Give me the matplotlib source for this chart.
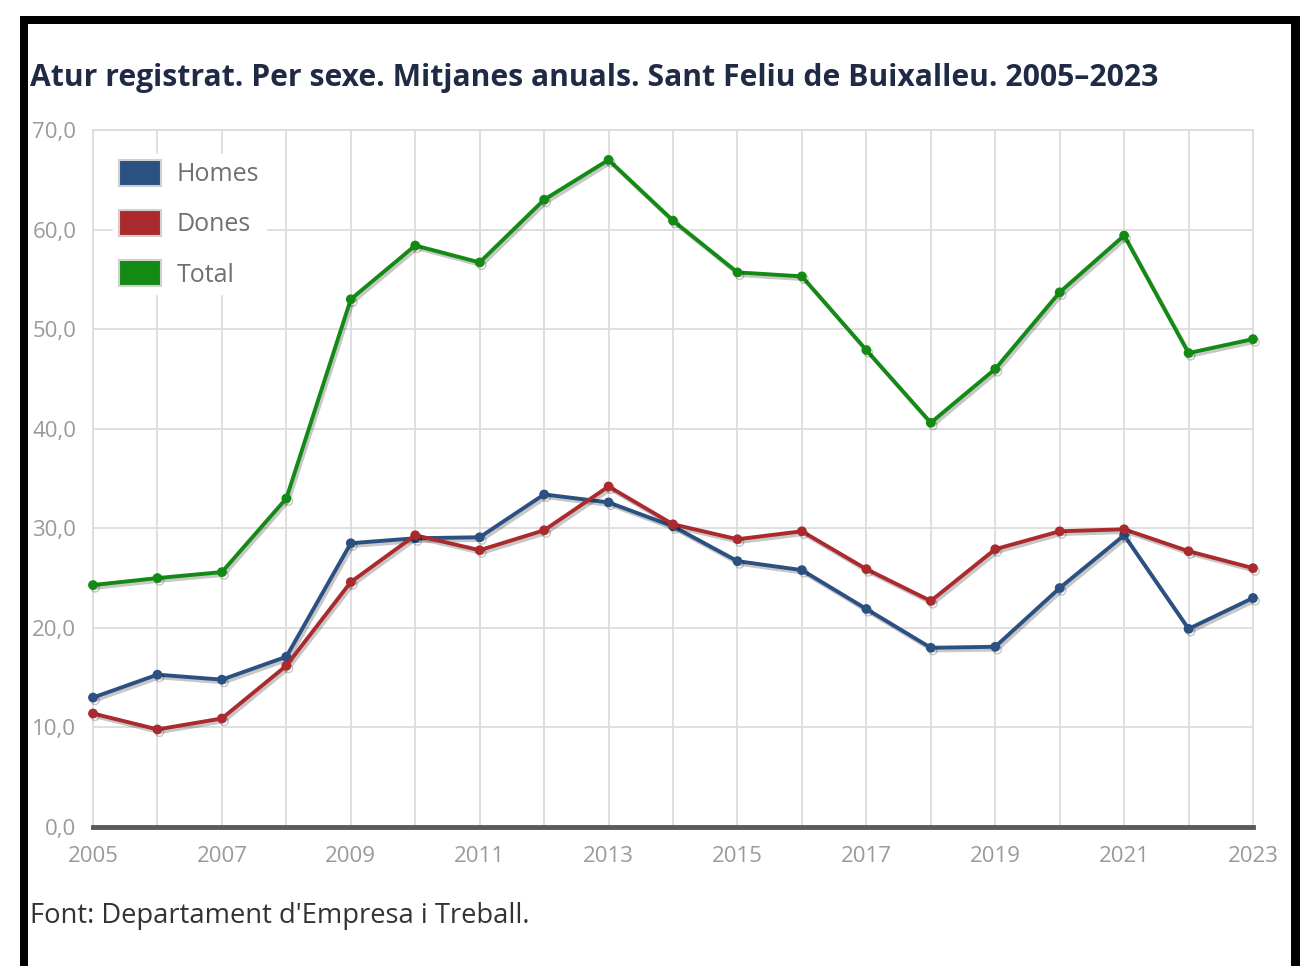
import matplotlib
matplotlib.use("Agg")
import matplotlib.pyplot as plt
import matplotlib.patheffects as pe
from matplotlib.patches import Patch, Rectangle
from matplotlib.ticker import FuncFormatter, MultipleLocator

plt.rcParams["font.family"] = ["Open Sans", "DejaVu Sans"]

# Atur registrat, mitjanes anuals
years = list(range(2005, 2024))
homes = [13.0, 15.3, 14.8, 17.1, 28.5, 29.0, 29.1, 33.4, 32.6, 30.2,
         26.7, 25.8, 21.9, 18.0, 18.1, 24.0, 29.3, 19.9, 23.0]
dones = [11.4, 9.8, 10.9, 16.2, 24.6, 29.3, 27.8, 29.8, 34.2, 30.4,
         28.9, 29.7, 25.9, 22.7, 27.9, 29.7, 29.9, 27.7, 26.0]
total = [24.3, 25.0, 25.6, 33.0, 53.0, 58.4, 56.7, 63.0, 67.0, 60.9,
         55.7, 55.3, 47.9, 40.6, 46.0, 53.7, 59.4, 47.6, 49.0]
xtick_years = years[::2]

series = [("Homes", homes, "#2b5082"),
          ("Dones", dones, "#ab2a2e"),
          ("Total", total, "#138a13")]

title = "Atur registrat. Per sexe. Mitjanes anuals. Sant Feliu de Buixalleu. 2005\u20132023"
source = "Font: Departament d'Empresa i Treball."

fig = plt.figure(figsize=(13, 9.66), dpi=100)
fig.patch.set_facecolor("white")

# black frame around the chart (left, top, right)
for x, y, w, h in [(20 / 1300, 0, 8 / 1300, 1 - 16 / 966),
                   (20 / 1300, 1 - 24 / 966, 1 - 20 / 1300, 8 / 966),
                   (1 - 9 / 1300, 0, 9 / 1300, 1 - 16 / 966)]:
    fig.patches.append(Rectangle((x, y), w, h, transform=fig.transFigure,
                                 facecolor="black", edgecolor="none"))

ax = fig.add_axes([93 / 1300, 139 / 966, 1160 / 1300, 697 / 966])

shadow = [pe.SimpleLineShadow(offset=(1.5, -2), shadow_color="black", alpha=0.22),
          pe.Normal()]
for name, vals, col in series:
    ax.plot(years, vals, color=col, lw=2.8, marker="o", markersize=6,
            path_effects=shadow, zorder=3, clip_on=False)

ax.set_xlim(years[0], years[-1])
ax.set_ylim(0, 70)
ax.set_xticks(xtick_years)
ax.xaxis.set_minor_locator(MultipleLocator(1))
ax.yaxis.set_major_locator(MultipleLocator(10))
ax.yaxis.set_major_formatter(FuncFormatter(lambda v, p: f"{v:.1f}".replace(".", ",")))

ax.grid(True, which="both", axis="x", color="#dcdcdc", lw=1.3)
ax.grid(True, which="major", axis="y", color="#dcdcdc", lw=1.3)
ax.set_axisbelow(True)
ax.tick_params(which="both", length=0, labelsize=16, colors="#9a9a9a")
ax.tick_params(axis="x", pad=14)
ax.tick_params(axis="y", pad=12)

for side in ("left", "right", "top"):
    ax.spines[side].set_color("#dcdcdc")
    ax.spines[side].set_linewidth(1.3)
ax.spines["bottom"].set_color("#5a5a5a")
ax.spines["bottom"].set_linewidth(3.5)

handles = [Patch(facecolor=col, edgecolor="#d0d0d0", linewidth=1.5, label=name)
           for name, vals, col in series]
leg = ax.legend(handles=handles, loc="upper left", bbox_to_anchor=(0.017, 0.966),
                borderaxespad=0, fontsize=18, frameon=True, framealpha=1,
                edgecolor="white", fancybox=False, handlelength=1.7,
                handleheight=1.2, labelspacing=0.92, handletextpad=0.62,
                borderpad=0.25)
for t in leg.get_texts():
    t.set_color("#707070")

fig.text(30 / 1300, 1 - 78 / 966, title, fontsize=21.7, fontweight="bold",
         color="#1f2a44", ha="left", va="center")
fig.text(30 / 1300, 1 - 916 / 966, source, fontsize=19.7, color="#333333",
         ha="left", va="center")

fig.savefig("out.png", dpi=100)
